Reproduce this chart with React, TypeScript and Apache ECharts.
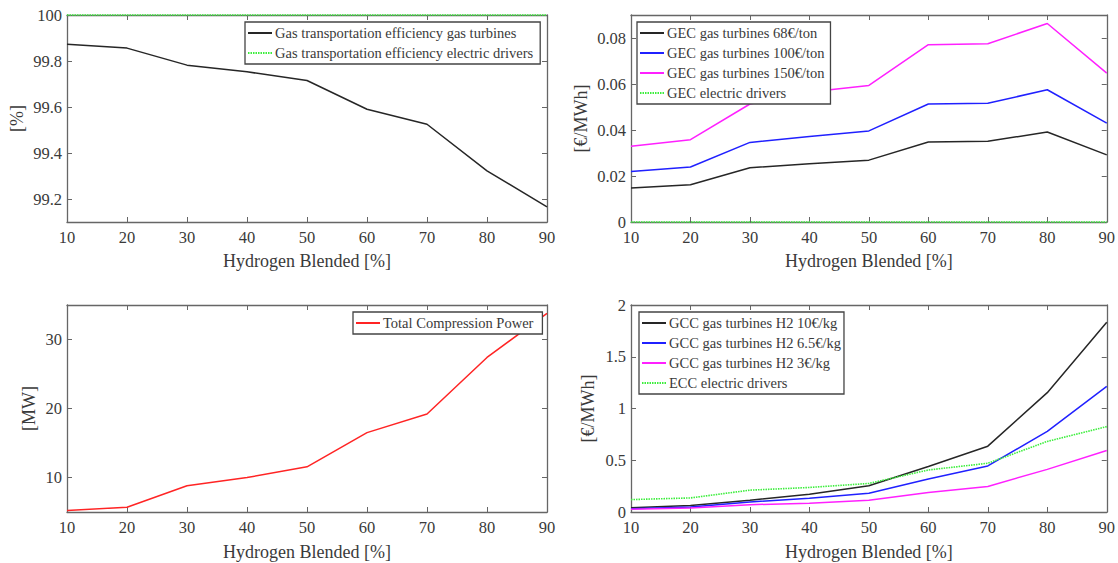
import React, { useEffect, useRef } from "react";
import * as echarts from "echarts";

// ---- data ----
const hydrogenBlended = [10, 20, 30, 40, 50, 60, 70, 80, 90];

const effGasTurbines = [99.873, 99.856, 99.782, 99.753, 99.715, 99.59, 99.525, 99.322, 99.166];
const effElectricDrivers = [100, 100, 100, 100, 100, 100, 100, 100, 100];

const gec68 = [0.0148, 0.0162, 0.0236, 0.0253, 0.0269, 0.0348, 0.0351, 0.0391, 0.0292];
const gec100 = [0.022, 0.0239, 0.0346, 0.0372, 0.0396, 0.0513, 0.0516, 0.0575, 0.043];
const gec150 = [0.0329, 0.0358, 0.0513, 0.0565, 0.0594, 0.0771, 0.0775, 0.0863, 0.0647];
const gecElectric = [0, 0, 0, 0, 0, 0, 0, 0, 0];

const compressionPower = [5.2, 5.7, 8.8, 10.0, 11.55, 16.5, 19.2, 27.4, 33.8];

const gcc10 = [0.04, 0.062, 0.114, 0.172, 0.253, 0.44, 0.636, 1.153, 1.834];
const gcc65 = [0.032, 0.049, 0.097, 0.133, 0.182, 0.318, 0.445, 0.779, 1.214];
const gcc3 = [0.026, 0.039, 0.071, 0.084, 0.114, 0.188, 0.247, 0.412, 0.594];
const eccElectric = [0.12, 0.136, 0.211, 0.237, 0.276, 0.406, 0.471, 0.682, 0.825];

const xTitle = "Hydrogen Blended [%]";

// ---- styles ----
const FONT = "'Liberation Serif', 'Times New Roman', serif";
const AXIS_COLOR = "#666";
const TEXT_COLOR = "#3a3a3a";
const BLACK = "#262626";
const BLUE = "#2020ff";
const MAGENTA = "#ff20ff";
const GREEN = "#3cee3c";
const RED = "#ff2424";

const grids = [
  { left: 67, top: 15, width: 480, height: 207 },
  { left: 631, top: 15, width: 480, height: 207 },
  { left: 67, top: 305, width: 480, height: 207 },
  { left: 631, top: 305, width: 480, height: 207 },
];

const axisLine = { show: true, onZero: false, lineStyle: { color: AXIS_COLOR, width: 1.3 } };
const axisTick = { show: true, inside: true, length: 5, lineStyle: { color: AXIS_COLOR, width: 1 } };

function makeXAxes(gridIndex: number, nameGap: number) {
  return [
    {
      type: "value",
      gridIndex,
      position: "bottom",
      min: 10,
      max: 90,
      interval: 10,
      name: xTitle,
      nameLocation: "middle",
      nameGap,
      nameTextStyle: { fontSize: 18, color: TEXT_COLOR, fontFamily: FONT },
      axisLine,
      axisTick,
      axisLabel: { fontSize: 16.5, color: TEXT_COLOR, fontFamily: FONT, margin: 7 },
      splitLine: { show: false },
    },
    {
      type: "value",
      gridIndex,
      position: "top",
      min: 10,
      max: 90,
      interval: 10,
      axisLine,
      axisTick,
      axisLabel: { show: false },
      splitLine: { show: false },
    },
  ];
}

function makeYAxes(gridIndex: number, name: string, nameGap: number, scale: any, labelExtra: any = {}) {
  return [
    {
      type: "value",
      gridIndex,
      position: "left",
      ...scale,
      name,
      nameLocation: "middle",
      nameGap,
      nameTextStyle: { fontSize: 18, color: TEXT_COLOR, fontFamily: FONT },
      axisLine,
      axisTick,
      axisLabel: { fontSize: 16.5, color: TEXT_COLOR, fontFamily: FONT, margin: 5, ...labelExtra },
      splitLine: { show: false },
    },
    {
      type: "value",
      gridIndex,
      position: "right",
      ...scale,
      axisLine,
      axisTick,
      axisLabel: { show: false },
      splitLine: { show: false },
    },
  ];
}

function line(name: string, panel: number, values: number[], color: string, dotted = false) {
  return {
    type: "line",
    name,
    xAxisIndex: panel * 2,
    yAxisIndex: panel * 2,
    data: hydrogenBlended.map((h, i) => [h, values[i]]),
    symbol: "none",
    showSymbol: false,
    clip: false,
    lineStyle: { color, width: dotted ? 1.6 : 1.5, type: dotted ? [1.5, 1] : "solid" },
    itemStyle: { color },
    z: dotted ? 3 : 2,
  };
}

function legend(left: number, top: number, names: string[], padRight: number) {
  return {
    left,
    top,
    orient: "vertical",
    backgroundColor: "#fff",
    borderColor: "#444",
    borderWidth: 1.3,
    borderRadius: 0,
    padding: [3, padRight, 3, 2],
    itemGap: 4,
    itemWidth: 24,
    itemHeight: 10,
    selectedMode: false,
    itemStyle: { opacity: 0, borderWidth: 0 },
    textStyle: { fontSize: 14.5, fontFamily: FONT, color: TEXT_COLOR, lineHeight: 16, padding: [0, 0, 0, -2] },
    data: names,
  };
}

const n1 = ["Gas transportation efficiency gas turbines", "Gas transportation efficiency electric drivers"];
const n2 = ["GEC gas turbines 68€/ton", "GEC gas turbines 100€/ton", "GEC gas turbines 150€/ton", "GEC electric drivers"];
const n3 = ["Total Compression Power"];
const n4 = ["GCC gas turbines H2 10€/kg", "GCC gas turbines H2 6.5€/kg", "GCC gas turbines H2 3€/kg", "ECC electric drivers"];

export default function App() {
  const ref = useRef<HTMLDivElement>(null);

  useEffect(() => {
    if (!ref.current) return;
    const chart = echarts.init(ref.current, undefined, { renderer: "svg" });
    const option: any = {
      animation: false,
      backgroundColor: "#fff",
      grid: grids,
      xAxis: [
        ...makeXAxes(0, 30),
        ...makeXAxes(1, 30),
        ...makeXAxes(2, 31),
        ...makeXAxes(3, 31),
      ],
      yAxis: [
        ...makeYAxes(0, "[%]", 41, { min: 99.1, max: 100, splitNumber: 5 }, { showMinLabel: false }),
        ...makeYAxes(1, "[€/MWh]", 41, { min: 0, max: 0.09, interval: 0.02 }, { showMaxLabel: false }),
        ...makeYAxes(2, "[MW]", 29, { min: 5, max: 35, splitNumber: 3 }, { showMinLabel: false, showMaxLabel: false }),
        ...makeYAxes(3, "[€/MWh]", 34, { min: 0, max: 2, interval: 0.5 }),
      ],
      legend: [
        legend(245, 22, n1, 7),
        legend(637, 22, n2, 6),
        legend(353, 312, n3, 9),
        legend(639, 312, n4, 3),
      ],
      series: [
        line(n1[0], 0, effGasTurbines, BLACK),
        line(n1[1], 0, effElectricDrivers, GREEN, true),
        line(n2[0], 1, gec68, BLACK),
        line(n2[1], 1, gec100, BLUE),
        line(n2[2], 1, gec150, MAGENTA),
        line(n2[3], 1, gecElectric, GREEN, true),
        line(n3[0], 2, compressionPower, RED),
        line(n4[0], 3, gcc10, BLACK),
        line(n4[1], 3, gcc65, BLUE),
        line(n4[2], 3, gcc3, MAGENTA),
        line(n4[3], 3, eccElectric, GREEN, true),
      ],
    };
    chart.setOption(option);
    return () => chart.dispose();
  }, []);

  return (
    <div
      ref={ref}
      style={{ position: "absolute", left: 0, top: 0, width: 1118, height: 563, background: "#fff" }}
    />
  );
}
